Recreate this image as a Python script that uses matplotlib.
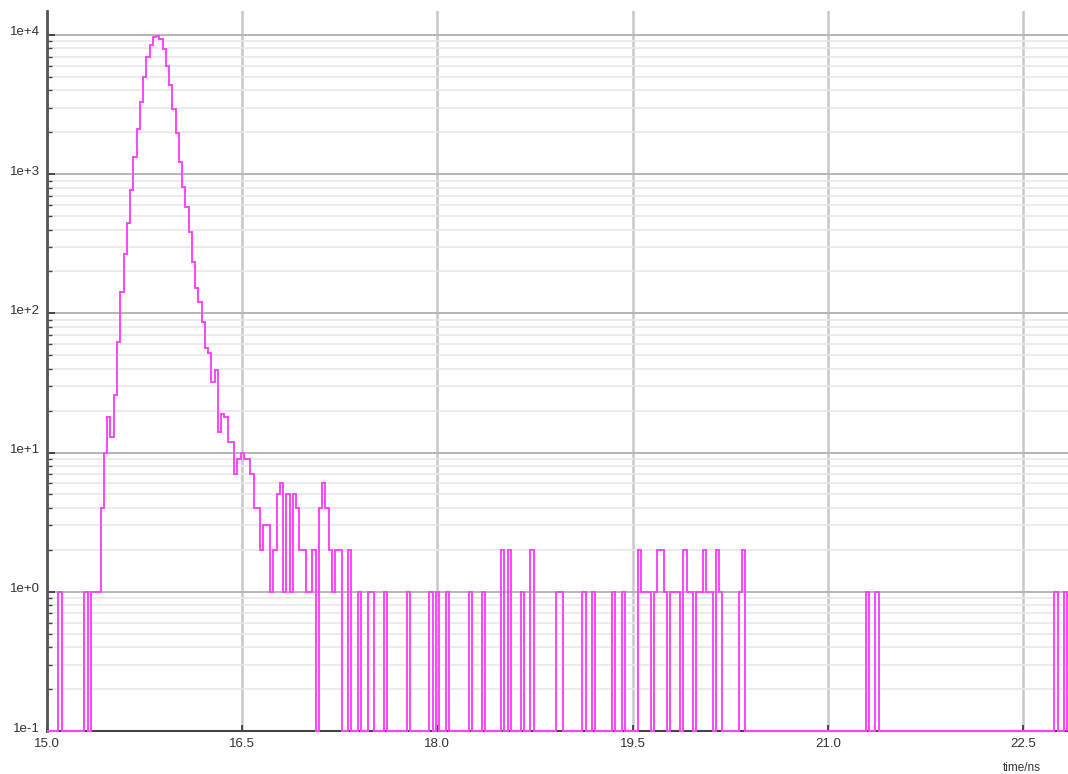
import numpy as np
import matplotlib
matplotlib.use("Agg")
import matplotlib.pyplot as plt
from matplotlib.ticker import FixedLocator, FuncFormatter, LogLocator, NullFormatter
import matplotlib.transforms as mtransforms

plt.rcParams["font.family"] = ["Liberation Sans", "DejaVu Sans"]

# ---------------- data (photon counts per time bin) ----------------
t_start = 14.99          # ns, left edge of bin 0
bin_width = 0.025        # ns
n_bins = 314

# counts for bins 0..100 (rise, peak and decay)
head_counts = [
    0, 0, 0, 0, 1, 0, 0, 0, 0, 0,
    0, 0, 1, 0, 1, 1, 1, 4, 10, 18,
    13, 26, 62, 142, 266, 444, 770, 1336, 2110, 3320,
    5010, 6980, 8470, 9700, 9800, 9300, 7900, 6000, 4380, 2940,
    1980, 1230, 810, 578, 386, 232, 151, 120, 87, 56,
    52, 32, 39, 14, 19, 18, 12, 12, 7, 9,
    10, 9, 9, 7, 4, 4, 2, 3, 3, 1,
    2, 5, 6, 1, 5, 1, 5, 4, 2, 2,
    1, 1, 2, 0, 4, 6, 4, 2, 1, 2,
    2, 0, 0, 2, 0, 0, 1, 0, 0, 1, 1,
]

# sparse background events after bin 100
tail_bins = [104, 111, 118, 120, 123, 130, 134, 140, 142, 146,
             149, 157, 158, 165, 168, 174, 177, 182, 183, 184,
             185, 187, 188, 189, 190, 192, 193, 194, 196, 197,
             198, 200, 201, 202, 203, 204, 206, 207, 213, 214,
             252, 255, 310, 313]
tail_counts = [1, 1, 1, 1, 1, 1, 1, 2, 2, 1,
               2, 1, 1, 1, 1, 1, 1, 2, 1, 1,
               1, 1, 2, 2, 1, 1, 1, 1, 2, 1,
               1, 1, 1, 2, 1, 1, 2, 1, 1, 2,
               1, 1, 1, 1]

x_ticks = [15.0, 16.5, 18.0, 19.5, 21.0, 22.5]
y_decades = [0.1, 1, 10, 100, 1000, 10000]
x_range = (15.0, 22.844)
y_range = (0.1, 10 ** 4.172)

# ---------------- build histogram ----------------
counts = np.zeros(n_bins)
counts[:len(head_counts)] = head_counts
counts[tail_bins] = tail_counts
edges = t_start + bin_width * np.arange(n_bins + 1)
edges = np.clip(edges, x_range[0], None)
floor = y_range[0]
shown = np.maximum(counts, floor)   # empty bins drawn on the axis floor

# ---------------- figure ----------------
W, H = 1068, 774
fig = plt.figure(figsize=(W / 100, H / 100), dpi=100)
left_px, bottom_px, top_px = 46.7, 731, 11
ax = fig.add_axes([left_px / W, (H - bottom_px) / H, 1 - left_px / W, (bottom_px - top_px) / H])

ax.set_yscale("log")
ax.set_xlim(*x_range)
ax.set_ylim(*y_range)

ax.stairs(shown, edges, baseline=floor, color="#ff44ff", lw=1.4,
          clip_on=False, zorder=4)

# ticks
ax.xaxis.set_major_locator(FixedLocator(x_ticks))
ax.xaxis.set_major_formatter(FuncFormatter(lambda v, p: f"{v:.1f}"))
ax.yaxis.set_major_locator(FixedLocator(y_decades))
ax.yaxis.set_major_formatter(FuncFormatter(lambda v, p: f"1e{int(round(np.log10(v))):+d}"))
ax.yaxis.set_minor_locator(LogLocator(base=10, subs=np.arange(2, 10), numticks=20))
ax.yaxis.set_minor_formatter(NullFormatter())

ax.tick_params(axis="x", which="major", direction="in", length=4, width=1.2,
               color="#333333", labelsize=9.5, labelcolor="#333333", pad=5)
ax.tick_params(axis="y", which="major", direction="in", length=6, width=1.2,
               color="#333333", labelsize=9.5, labelcolor="#333333", pad=5)
ax.tick_params(axis="y", which="minor", direction="in", length=3.5, width=1.0,
               color="#444444")

# grid
ax.grid(which="major", axis="y", color="#b5b5b5", lw=1.4, zorder=1)
ax.grid(which="minor", axis="y", color="#e8e8e8", lw=1.2, zorder=0)
ax.grid(which="major", axis="x", color="#c8c8c8", lw=1.8, zorder=1)
ax.set_axisbelow(True)

for s in ("top", "right"):
    ax.spines[s].set_visible(False)
ax.spines["left"].set_color("#555555")
ax.spines["left"].set_linewidth(2.0)
ax.spines["bottom"].set_color("#444444")
ax.spines["bottom"].set_linewidth(1.5)

# y labels sit slightly above their grid line
offset = mtransforms.ScaledTranslation(0, 4 / 100, fig.dpi_scale_trans)
for lbl in ax.get_yticklabels():
    lbl.set_transform(lbl.get_transform() + offset)

fig.text(1022 / W, 1 - 768 / H, "time/ns", ha="center", va="center",
         fontsize=8.5, color="#333333")

fig.savefig("out.png", dpi=100, facecolor="white")
